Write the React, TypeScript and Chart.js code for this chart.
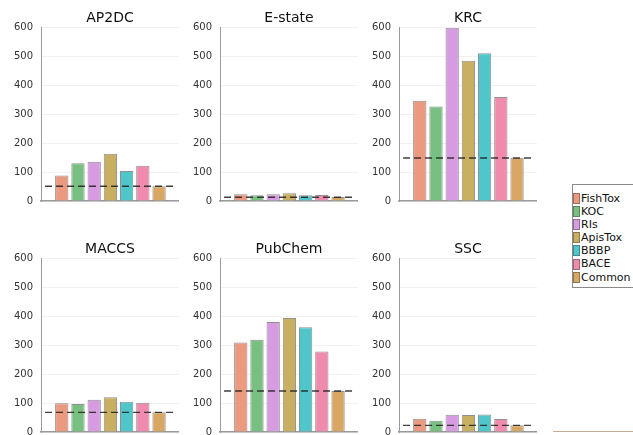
import React, { useEffect, useRef } from "react";
import { Chart, registerables } from "chart.js";

Chart.register(...registerables);

const groups = ["FishTox", "KOC", "RIs", "ApisTox", "BBBP", "BACE", "Common"];
const groupColors = ["#ec9a7f", "#78bf82", "#d79be2", "#c8af62", "#4fc6c9", "#f18bad", "#d8a764"];
const panelTitles = ["AP2DC", "E-state", "KRC", "MACCS", "PubChem", "SSC"];
const ap2dc = [88, 131, 136, 164, 104, 122, 51];
const estate = [23, 20, 23, 27, 20, 21, 14];
const krc = [347, 327, 600, 486, 512, 360, 150];
const maccs = [100, 97, 112, 120, 105, 101, 68];
const pubchem = [310, 320, 381, 395, 363, 279, 142];
const ssc = [46, 39, 60, 59, 61, 45, 23];
const panelValues = [ap2dc, estate, krc, maccs, pubchem, ssc];
const baselines = [51, 13, 149, 68, 142, 23];
const yMin = 0;
const yMax = 600;
const yStep = 100;
const xMin = -1.28;
const xMax = 7.23;
const refStart = -1.03;
const refEnd = 6.87;

const FONT = "'DejaVu Sans', sans-serif";

function Panel({ idx }: { idx: number }) {
  const ref = useRef<HTMLCanvasElement | null>(null);
  useEffect(() => {
    const canvas = ref.current;
    if (!canvas) return;
    const values = panelValues[idx];
    const chart = new Chart(canvas, {
      type: "bar",
      data: {
        datasets: [
          {
            type: "line",
            data: [
              { x: refStart, y: baselines[idx] },
              { x: refEnd, y: baselines[idx] },
            ],
            borderColor: "rgba(30,30,30,0.85)",
            borderWidth: 1.4,
            borderDash: [7, 4],
            pointRadius: 0,
            order: 0,
          } as any,
          {
            type: "bar",
            data: values.map((v, i) => ({ x: i, y: v })),
            backgroundColor: groupColors,
            borderColor: "rgba(70,70,70,0.6)",
            borderWidth: 1,
            barPercentage: 0.82,
            categoryPercentage: 1,
            order: 1,
          } as any,
        ],
      },
      options: {
        responsive: false,
        animation: false,
        layout: { padding: 0 },
        plugins: {
          legend: { display: false },
          tooltip: { enabled: false },
          title: {
            display: true,
            text: panelTitles[idx],
            fullSize: false,
            color: "#111",
            font: { family: FONT, size: 14, weight: "normal" },
            padding: { top: 10, bottom: 1 },
          },
        },
        scales: {
          x: {
            type: "linear",
            min: xMin,
            max: xMax,
            offset: false,
            ticks: { display: false },
            grid: { display: false, offset: false },
            border: { display: true, color: "#9a9a9a", width: 1.6 },
            afterFit: (s: any) => {
              s.height = 3;
            },
          },
          y: {
            min: yMin,
            max: yMax,
            ticks: {
              stepSize: yStep,
              padding: 8,
              color: "#333",
              font: { family: FONT, size: 10 },
            },
            grid: { drawTicks: false, color: "rgba(0,0,0,0.05)", lineWidth: 1 },
            border: { display: true, color: "#9a9a9a", width: 1 },
            afterFit: (s: any) => {
              s.width = 41;
            },
          },
        },
      } as any,
    });
    return () => chart.destroy();
  }, [idx]);
  const col = idx % 3;
  const row = Math.floor(idx / 3);
  return (
    <canvas
      ref={ref}
      width={179}
      height={215}
      style={{ position: "absolute", left: col * 179, top: row * 231, width: 179, height: 215 }}
    />
  );
}

export default function App() {
  return (
    <div
      style={{
        position: "fixed",
        left: 0,
        top: 0,
        width: 633,
        height: 435,
        overflow: "hidden",
        background: "#fff",
      }}
    >
      {panelTitles.map((_, i) => (
        <Panel key={i} idx={i} />
      ))}
      <div
        style={{
          position: "absolute",
          left: 572,
          top: 184,
          width: 80,
          height: 104,
          border: "1px solid #8a8a8a",
          boxSizing: "border-box",
          paddingTop: 7,
          fontFamily: FONT,
          fontSize: 11,
          color: "#111",
        }}
      >
        {groups.map((g, i) => (
          <div key={g} style={{ height: 13.1, lineHeight: "13.1px", display: "flex", alignItems: "center" }}>
            <span
              style={{
                display: "inline-block",
                width: 5,
                height: 9,
                marginLeft: 0,
                marginRight: 1,
                background: groupColors[i],
                border: "1px solid rgba(70,70,70,0.5)",
              }}
            />
            <span>{g}</span>
          </div>
        ))}
      </div>
      <div
        style={{
          position: "absolute",
          left: 553,
          top: 431,
          width: 80,
          height: 0,
          borderTop: "1.5px solid #c9ab92",
        }}
      />
    </div>
  );
}
